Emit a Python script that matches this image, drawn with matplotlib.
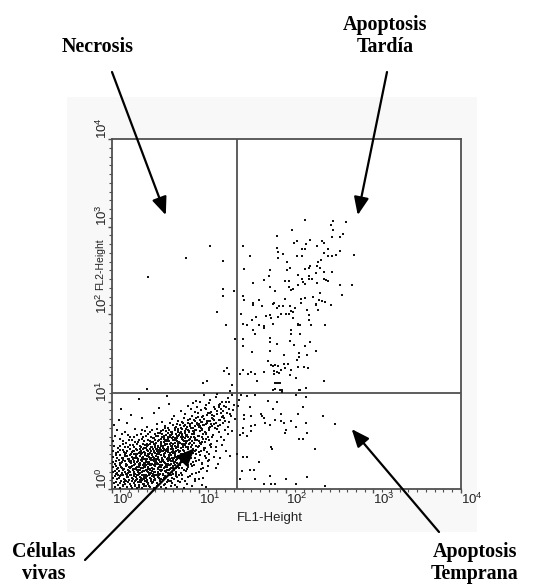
import numpy as np
import matplotlib.pyplot as plt
from matplotlib.ticker import FixedLocator, FixedFormatter, NullFormatter
from matplotlib.patches import Rectangle

# Annexin V (FL1) vs propidium iodide (FL2), values as log10 of the channel
# quadrant gates
fl1_gate = 27.0
fl2_gate = 12.6

# late apoptosis (upper right)
late_apop = [
    (2.21, 3.08), (2.51, 3.02), (2.54, 3.06), (2.68, 3.05), (2.07, 2.96), (2.54, 2.96),
    (1.89, 2.89), (2.65, 2.91), (2.62, 2.88), (2.53, 2.88), (2.12, 2.83), (2.09, 2.81),
    (2.27, 2.85), (2.41, 2.83), (2.43, 2.81), (2.35, 2.78), (2.23, 2.80), (1.51, 2.78),
    (1.89, 2.75), (1.91, 2.71), (1.96, 2.69), (2.18, 2.74), (2.22, 2.74), (2.48, 2.74),
    (2.43, 2.70), (2.62, 2.72), (2.57, 2.67), (2.78, 2.67), (1.59, 2.66), (1.91, 2.64),
    (2.12, 2.66), (2.18, 2.66), (2.48, 2.66), (2.53, 2.66), (2.40, 2.62), (2.36, 2.60),
    (2.37, 2.59), (2.01, 2.60), (2.27, 2.55), (2.21, 2.52), (2.26, 2.53), (2.35, 2.55),
    (2.39, 2.53), (1.52, 2.52), (2.04, 2.53), (2.01, 2.50), (1.81, 2.50), (2.53, 2.48),
    (2.43, 2.48), (2.34, 2.47), (2.26, 2.43), (2.26, 2.40), (2.18, 2.40), (2.14, 2.45),
    (2.30, 2.40), (1.80, 2.43), (1.99, 2.38), (2.03, 2.38), (1.75, 2.39), (2.43, 2.40),
    (2.46, 2.39), (2.48, 2.38), (2.35, 2.36), (2.19, 2.37), (2.21, 2.34), (2.14, 2.33),
    (1.62, 2.36), (2.62, 2.33), (2.75, 2.33), (1.81, 2.31), (2.03, 2.31), (2.08, 2.29),
    (2.06, 2.27), (1.87, 2.26), (2.64, 2.22), (1.51, 2.21), (2.39, 2.24), (1.52, 2.16),
    (1.99, 2.17), (2.17, 2.17), (2.21, 2.18), (2.31, 2.19), (2.17, 2.13), (2.38, 2.16),
    (2.41, 2.15), (2.44, 2.14), (1.62, 2.13), (1.62, 2.10), (1.69, 2.16), (1.72, 2.09),
    (1.86, 2.13), (1.85, 2.11), (1.92, 2.09), (1.89, 2.07), (1.96, 2.09), (2.04, 2.09),
    (2.10, 2.07), (2.05, 2.04), (2.06, 2.03), (2.08, 2.02), (2.51, 2.10), (2.34, 2.10),
    (2.34, 2.11), (2.24, 2.05), (2.37, 2.05), (1.48, 2.00), (1.65, 1.97), (1.77, 1.98),
    (1.81, 1.99), (1.83, 1.95), (1.91, 1.97), (1.94, 2.00), (2.00, 2.00), (2.03, 2.00),
    (2.26, 1.99), (1.51, 1.89), (1.61, 1.93), (1.55, 1.88), (1.69, 1.87), (1.74, 1.86),
    (1.75, 1.84), (1.85, 1.89), (2.08, 1.95), (2.14, 1.89), (2.16, 1.88), (2.13, 1.87),
    (2.26, 1.93), (2.28, 1.88), (2.45, 1.87), (1.62, 1.82), (1.64, 1.77), (1.82, 1.73),
    (1.82, 1.68), (1.89, 1.66), (2.06, 1.82), (2.06, 1.77), (2.16, 1.77), (2.04, 1.69),
    (2.09, 1.65), (2.27, 1.68), (2.21, 1.63), (2.34, 1.58), (1.51, 1.72), (1.51, 1.63),
    (1.61, 1.57), (1.81, 1.58), (1.98, 1.53), (2.15, 1.55), (2.15, 1.51), (2.24, 1.53),
    (2.12, 1.48), (1.79, 1.46), (1.83, 1.42), (1.85, 1.41), (1.87, 1.42), (1.91, 1.41),
    (1.97, 1.43), (2.02, 1.43), (1.99, 1.38), (1.94, 1.36), (1.92, 1.33), (1.89, 1.34),
    (1.86, 1.32), (1.86, 1.35), (1.75, 1.34), (2.06, 1.36), (2.14, 1.39), (2.11, 1.27),
    (2.20, 1.40), (2.25, 1.38), (2.04, 1.30), (1.67, 1.24), (1.60, 1.34), (1.64, 1.31),
    (1.56, 1.32), (1.50, 1.36), (1.47, 1.31), (2.43, 1.24), (1.89, 1.21), (1.93, 1.21),
    (1.85, 1.13), (1.87, 1.14), (1.93, 1.13), (1.95, 1.11), (2.15, 1.13), (2.23, 1.15),
    (1.87, 1.21), (1.92, 1.21), (1.95, 1.13), (2.16, 1.13), (1.66, 1.23),
]

# necrosis (upper left)
necrosis = [
    (1.13, 2.78), (0.85, 2.64), (1.27, 2.61), (0.42, 2.42), (1.27, 2.29), (1.28, 2.21),
    (1.40, 2.26), (1.21, 2.02), (1.31, 1.87), (1.41, 1.72), (1.29, 1.35), (1.32, 1.38),
    (1.34, 1.32), (1.05, 1.21), (1.09, 1.23), (1.38, 1.19), (0.40, 1.14), (1.36, 1.12),
]

# early apoptosis (lower right)
early_apop = [
    (1.48, 1.08), (1.55, 1.06), (1.58, 0.94), (1.60, 0.83), (1.52, 0.80), (1.51, 0.70),
    (1.50, 0.64), (1.55, 0.61), (1.60, 0.66), (1.60, 0.72), (1.64, 0.73), (1.71, 0.86),
    (1.72, 0.83), (1.74, 0.81), (1.76, 0.75), (1.81, 0.73), (1.79, 1.01), (1.85, 0.91),
    (1.87, 0.79), (1.89, 1.00), (1.94, 0.86), (1.94, 0.78), (1.97, 0.76), (2.00, 0.67),
    (1.99, 0.64), (2.05, 0.78), (2.11, 0.71), (2.13, 0.86), (2.15, 0.57), (2.19, 0.57),
    (2.23, 0.76), (2.24, 0.64), (2.19, 0.94), (2.42, 0.83), (2.56, 0.74), (2.33, 0.46),
    (1.83, 0.48), (1.84, 0.46), (1.69, 0.31), (1.50, 0.37), (1.55, 0.37), (1.58, 0.22),
    (1.63, 0.22), (1.47, 0.11), (1.64, 0.12), (1.81, 0.15), (1.83, 0.06), (1.74, 0.06),
    (1.87, 0.06), (2.00, 0.11), (2.11, 0.06), (2.24, 0.14), (2.44, 0.03), (1.64, 1.07),
    (2.11, 1.07), (2.23, 1.05), (1.45, 0.95), (1.47, 0.62), (1.44, 0.40), (1.49, 0.21),
    (1.46, 1.02), (1.52, 0.85),
]

# live cells (lower left), outer part of the cloud
live = [
    (0.31, 1.03), (0.63, 1.06), (0.97, 1.01), (1.06, 1.08), (1.13, 1.02), (1.19, 1.05),
    (1.26, 1.00), (1.33, 1.04), (1.38, 1.07), (1.21, 1.09),
    (0.66, 0.97), (0.87, 0.95), (1.01, 0.99), (1.08, 0.96), (1.12, 0.98), (1.17, 0.94),
    (1.24, 0.97), (1.29, 0.95), (1.35, 0.99), (1.40, 0.96), (0.93, 0.98), (1.31, 1.00),
    (0.11, 0.91), (0.54, 0.93), (0.79, 0.89), (0.91, 0.92), (1.02, 0.90), (1.07, 0.93),
    (1.14, 0.88), (1.18, 0.91), (1.23, 0.94), (1.28, 0.89), (1.34, 0.92), (1.39, 0.90),
    (0.98, 0.94), (1.25, 0.91),
    (0.22, 0.85), (0.48, 0.87), (0.71, 0.83), (0.84, 0.86), (0.92, 0.84), (0.99, 0.87),
    (1.04, 0.82), (1.09, 0.85), (1.13, 0.87), (1.17, 0.83), (1.21, 0.86), (1.27, 0.84),
    (1.32, 0.87), (1.37, 0.83), (0.95, 0.88), (1.15, 0.85),
    (0.08, 0.79), (0.35, 0.81), (0.58, 0.77), (0.69, 0.80), (0.76, 0.78), (0.83, 0.81),
    (0.88, 0.76), (0.94, 0.79), (0.99, 0.82), (1.03, 0.77), (1.06, 0.80), (1.11, 0.78),
    (1.15, 0.81), (1.19, 0.76), (1.24, 0.79), (1.29, 0.81), (1.35, 0.77), (0.90, 0.80),
    (1.01, 0.79), (1.41, 0.80),
    (0.03, 0.73), (0.18, 0.75), (0.41, 0.71), (0.52, 0.74), (0.61, 0.72), (0.67, 0.75),
    (0.73, 0.70), (0.78, 0.73), (0.82, 0.76), (0.86, 0.71), (0.90, 0.74), (0.95, 0.72),
    (0.98, 0.75), (1.02, 0.70), (1.05, 0.73), (1.09, 0.76), (1.13, 0.71), (1.17, 0.74),
    (1.22, 0.72), (1.28, 0.75), (1.33, 0.71), (0.70, 0.73), (0.93, 0.70), (1.00, 0.74),
    (0.06, 0.67), (0.15, 0.65), (0.27, 0.69), (0.38, 0.66), (0.46, 0.68), (0.53, 0.64),
    (0.59, 0.67), (0.64, 0.70), (0.68, 0.65), (0.72, 0.68), (0.76, 0.66), (0.80, 0.69),
    (0.84, 0.64), (0.87, 0.67), (0.91, 0.70), (0.94, 0.65), (0.97, 0.68), (1.01, 0.66),
    (1.04, 0.69), (1.08, 0.64), (1.12, 0.67), (1.18, 0.70), (1.23, 0.65), (1.30, 0.68),
    (0.62, 0.66), (0.78, 0.64), (0.89, 0.66), (1.38, 0.66),
    (0.04, 0.61), (0.12, 0.63), (0.21, 0.59), (0.29, 0.62), (0.36, 0.60), (0.42, 0.63),
    (0.47, 0.58), (0.51, 0.61), (0.55, 0.64), (0.58, 0.59), (0.62, 0.62), (0.65, 0.60),
    (0.69, 0.63), (0.72, 0.58), (0.75, 0.61), (0.79, 0.64), (0.82, 0.59), (0.85, 0.62),
    (0.88, 0.60), (0.92, 0.63), (0.96, 0.58), (1.00, 0.61), (1.05, 0.63), (1.10, 0.59),
    (1.16, 0.62), (1.25, 0.60), (0.60, 0.61), (0.70, 0.60), (0.77, 0.62), (0.81, 0.61),
    (0.67, 0.59), (1.33, 0.63),
    (0.02, 0.55), (0.09, 0.57), (0.16, 0.53), (0.23, 0.56), (0.30, 0.54), (0.35, 0.57),
    (0.40, 0.52), (0.44, 0.55), (0.48, 0.58), (0.51, 0.53), (0.54, 0.56), (0.57, 0.54),
    (0.60, 0.57), (0.63, 0.52), (0.66, 0.55), (0.69, 0.58), (0.72, 0.53), (0.74, 0.56),
    (0.77, 0.54), (0.80, 0.57), (0.83, 0.52), (0.86, 0.55), (0.90, 0.57), (0.94, 0.53),
    (0.98, 0.56), (1.03, 0.54), (1.08, 0.57), (1.14, 0.52), (1.21, 0.55), (0.46, 0.54),
    (0.56, 0.52), (0.61, 0.55), (0.68, 0.53), (0.75, 0.58), (0.85, 0.53), (1.29, 0.56),
    (0.03, 0.49), (0.07, 0.47), (0.13, 0.51), (0.19, 0.48), (0.24, 0.50), (0.28, 0.46),
    (0.32, 0.49), (0.36, 0.52), (0.39, 0.47), (0.42, 0.50), (0.45, 0.48), (0.48, 0.51),
    (0.51, 0.46), (0.53, 0.49), (0.56, 0.52), (0.59, 0.47), (0.61, 0.50), (0.64, 0.48),
    (0.67, 0.51), (0.70, 0.46), (0.73, 0.49), (0.76, 0.52), (0.79, 0.47), (0.82, 0.50),
    (0.85, 0.48), (0.89, 0.51), (0.93, 0.46), (0.97, 0.49), (1.02, 0.51), (1.07, 0.47),
    (1.13, 0.50), (1.19, 0.48), (0.44, 0.46), (0.50, 0.48), (0.57, 0.49), (0.63, 0.46),
    (0.69, 0.49), (0.74, 0.47), (0.80, 0.52), (1.26, 0.50),
    (0.01, 0.43), (0.05, 0.41), (0.10, 0.45), (0.14, 0.42), (0.18, 0.44), (0.22, 0.40),
    (0.25, 0.43), (0.28, 0.46), (0.31, 0.41), (0.34, 0.44), (0.37, 0.42), (0.40, 0.45),
    (0.42, 0.40), (0.45, 0.43), (0.47, 0.46), (0.50, 0.41), (0.52, 0.44), (0.55, 0.42),
    (0.57, 0.45), (0.60, 0.40), (0.62, 0.43), (0.65, 0.46), (0.67, 0.41), (0.70, 0.44),
    (0.73, 0.42), (0.76, 0.45), (0.79, 0.40), (0.83, 0.43), (0.87, 0.46), (0.91, 0.41),
    (0.95, 0.44), (1.00, 0.42), (1.06, 0.45), (1.12, 0.40), (1.20, 0.43), (0.38, 0.40),
    (0.44, 0.41), (0.49, 0.44), (0.54, 0.40), (0.59, 0.43), (0.64, 0.44), (0.69, 0.42),
    (0.33, 0.46), (1.31, 0.44),
    (0.02, 0.37), (0.06, 0.35), (0.09, 0.39), (0.13, 0.36), (0.17, 0.38), (0.20, 0.34),
    (0.23, 0.37), (0.26, 0.40), (0.29, 0.35), (0.32, 0.38), (0.35, 0.36), (0.38, 0.39),
    (0.40, 0.34), (0.43, 0.37), (0.46, 0.40), (0.48, 0.35), (0.51, 0.38), (0.53, 0.36),
    (0.56, 0.39), (0.58, 0.34), (0.61, 0.37), (0.64, 0.35), (0.66, 0.39), (0.69, 0.36),
    (0.72, 0.38), (0.75, 0.34), (0.78, 0.37), (0.82, 0.39), (0.86, 0.35), (0.90, 0.38),
    (0.95, 0.36), (1.01, 0.39), (1.08, 0.35), (1.17, 0.37), (0.27, 0.36), (0.36, 0.34),
    (0.41, 0.38), (0.47, 0.37), (0.52, 0.34), (0.60, 0.39), (0.67, 0.34), (0.74, 0.37),
    (1.24, 0.36), (1.36, 0.38),
    (0.01, 0.31), (0.04, 0.29), (0.08, 0.33), (0.11, 0.30), (0.15, 0.32), (0.18, 0.28),
    (0.21, 0.31), (0.24, 0.34), (0.27, 0.29), (0.30, 0.32), (0.33, 0.30), (0.35, 0.33),
    (0.38, 0.28), (0.41, 0.31), (0.44, 0.34), (0.46, 0.29), (0.49, 0.32), (0.52, 0.30),
    (0.54, 0.33), (0.57, 0.28), (0.60, 0.31), (0.63, 0.34), (0.65, 0.29), (0.68, 0.32),
    (0.71, 0.30), (0.74, 0.33), (0.78, 0.28), (0.82, 0.31), (0.86, 0.33), (0.91, 0.29),
    (0.97, 0.32), (1.04, 0.30), (1.12, 0.33), (0.26, 0.31), (0.32, 0.28), (0.39, 0.33),
    (0.43, 0.29), (0.50, 0.30), (0.55, 0.31), (0.62, 0.29), (0.70, 0.34), (1.22, 0.29),
    (0.02, 0.25), (0.06, 0.23), (0.09, 0.27), (0.12, 0.24), (0.16, 0.26), (0.19, 0.22),
    (0.22, 0.25), (0.25, 0.28), (0.28, 0.23), (0.31, 0.26), (0.34, 0.24), (0.36, 0.27),
    (0.39, 0.22), (0.42, 0.25), (0.45, 0.28), (0.47, 0.23), (0.50, 0.26), (0.53, 0.24),
    (0.55, 0.27), (0.58, 0.22), (0.61, 0.25), (0.64, 0.28), (0.67, 0.23), (0.70, 0.26),
    (0.74, 0.24), (0.78, 0.27), (0.83, 0.22), (0.88, 0.25), (0.94, 0.27), (1.02, 0.23),
    (1.10, 0.26), (0.24, 0.23), (0.30, 0.22), (0.37, 0.25), (0.44, 0.23), (0.49, 0.28),
    (0.56, 0.25), (0.63, 0.22), (0.72, 0.28), (1.19, 0.24),
    (0.01, 0.19), (0.05, 0.17), (0.08, 0.21), (0.12, 0.18), (0.15, 0.20), (0.18, 0.16),
    (0.21, 0.19), (0.24, 0.22), (0.27, 0.17), (0.30, 0.20), (0.33, 0.18), (0.36, 0.21),
    (0.39, 0.16), (0.42, 0.19), (0.44, 0.22), (0.47, 0.17), (0.50, 0.20), (0.53, 0.18),
    (0.56, 0.21), (0.59, 0.16), (0.62, 0.19), (0.66, 0.22), (0.70, 0.17), (0.74, 0.20),
    (0.79, 0.18), (0.85, 0.21), (0.92, 0.17), (1.00, 0.19), (0.26, 0.20), (0.35, 0.16),
    (0.41, 0.21), (0.48, 0.19), (0.55, 0.17), (0.64, 0.18), (1.09, 0.21), (0.77, 0.16),
    (0.02, 0.13), (0.06, 0.11), (0.10, 0.15), (0.14, 0.12), (0.17, 0.14), (0.20, 0.10),
    (0.23, 0.13), (0.26, 0.16), (0.29, 0.11), (0.32, 0.14), (0.35, 0.12), (0.38, 0.15),
    (0.41, 0.10), (0.44, 0.13), (0.47, 0.16), (0.50, 0.11), (0.53, 0.14), (0.57, 0.12),
    (0.61, 0.15), (0.65, 0.10), (0.69, 0.13), (0.74, 0.15), (0.80, 0.11), (0.87, 0.14),
    (0.95, 0.12), (0.28, 0.14), (0.37, 0.11), (0.45, 0.12), (0.55, 0.10), (1.05, 0.13),
    (0.03, 0.07), (0.07, 0.05), (0.11, 0.09), (0.15, 0.06), (0.19, 0.08), (0.22, 0.04),
    (0.25, 0.07), (0.28, 0.10), (0.31, 0.05), (0.34, 0.08), (0.37, 0.06), (0.40, 0.09),
    (0.43, 0.04), (0.46, 0.07), (0.49, 0.10), (0.53, 0.05), (0.57, 0.08), (0.61, 0.06),
    (0.66, 0.09), (0.72, 0.05), (0.78, 0.08), (0.86, 0.06), (0.95, 0.09), (0.33, 0.10),
    (0.42, 0.07), (1.03, 0.05),
    (0.04, 0.02), (0.09, 0.01), (0.13, 0.03), (0.18, 0.02), (0.23, 0.01), (0.27, 0.03),
    (0.31, 0.02), (0.35, 0.01), (0.39, 0.03), (0.44, 0.02), (0.48, 0.01), (0.52, 0.03),
    (0.57, 0.02), (0.62, 0.01), (0.68, 0.03), (0.75, 0.02), (0.83, 0.01), (0.92, 0.03),
    (1.08, 0.02), (0.29, 0.01),
]

# live cells, dense core of the cloud
live_core = [
    (0.055, 0.085), (0.095, 0.065), (0.165, 0.095), (0.205, 0.055), (0.235, 0.090),
    (0.265, 0.045), (0.325, 0.075), (0.385, 0.095), (0.415, 0.055), (0.475, 0.085),
    (0.515, 0.065), (0.555, 0.095), (0.595, 0.045), (0.635, 0.075), (0.695, 0.065),
    (0.135, 0.045), (0.305, 0.085), (0.445, 0.095), (0.755, 0.095), (0.365, 0.035),
    (0.035, 0.145), (0.085, 0.125), (0.125, 0.155), (0.155, 0.105), (0.185, 0.135),
    (0.215, 0.155), (0.245, 0.115), (0.275, 0.135), (0.305, 0.155), (0.345, 0.105),
    (0.365, 0.135), (0.395, 0.125), (0.425, 0.155), (0.455, 0.115), (0.485, 0.135),
    (0.515, 0.155), (0.545, 0.125), (0.585, 0.105), (0.625, 0.135), (0.675, 0.155),
    (0.715, 0.115), (0.335, 0.125), (0.405, 0.145), (0.495, 0.105),
    (0.035, 0.205), (0.065, 0.185), (0.105, 0.165), (0.135, 0.215), (0.165, 0.175),
    (0.195, 0.205), (0.225, 0.165), (0.255, 0.185), (0.285, 0.215), (0.315, 0.175),
    (0.345, 0.195), (0.375, 0.165), (0.405, 0.215), (0.435, 0.175), (0.465, 0.205),
    (0.495, 0.165), (0.525, 0.195), (0.555, 0.215), (0.585, 0.175), (0.615, 0.205),
    (0.655, 0.165), (0.695, 0.195), (0.735, 0.175), (0.375, 0.205), (0.455, 0.185),
    (0.285, 0.165),
    (0.045, 0.265), (0.075, 0.235), (0.105, 0.255), (0.145, 0.225), (0.175, 0.275),
    (0.205, 0.245), (0.235, 0.265), (0.265, 0.225), (0.295, 0.255), (0.325, 0.275),
    (0.355, 0.235), (0.385, 0.255), (0.415, 0.225), (0.435, 0.275), (0.465, 0.245),
    (0.495, 0.265), (0.525, 0.225), (0.545, 0.255), (0.575, 0.275), (0.605, 0.235),
    (0.635, 0.255), (0.665, 0.275), (0.705, 0.235), (0.755, 0.255), (0.805, 0.235),
    (0.395, 0.275), (0.275, 0.245),
    (0.055, 0.315), (0.095, 0.295), (0.135, 0.335), (0.165, 0.285), (0.195, 0.315),
    (0.225, 0.295), (0.255, 0.325), (0.285, 0.305), (0.315, 0.285), (0.345, 0.315),
    (0.365, 0.295), (0.395, 0.325), (0.425, 0.305), (0.455, 0.285), (0.475, 0.335),
    (0.505, 0.315), (0.535, 0.285), (0.565, 0.305), (0.585, 0.335), (0.615, 0.295),
    (0.645, 0.315), (0.675, 0.285), (0.705, 0.315), (0.745, 0.295), (0.795, 0.325),
    (0.845, 0.295), (0.415, 0.285), (0.335, 0.335),
    (0.045, 0.385), (0.115, 0.355), (0.155, 0.375), (0.185, 0.345), (0.215, 0.385),
    (0.245, 0.355), (0.275, 0.375), (0.305, 0.345), (0.335, 0.395), (0.355, 0.365),
    (0.385, 0.345), (0.415, 0.375), (0.445, 0.355), (0.465, 0.385), (0.495, 0.345),
    (0.525, 0.365), (0.545, 0.395), (0.575, 0.355), (0.605, 0.375), (0.635, 0.345),
    (0.655, 0.365), (0.685, 0.385), (0.715, 0.355), (0.755, 0.375), (0.805, 0.355),
    (0.855, 0.385), (0.425, 0.395), (0.505, 0.375),
    (0.075, 0.425), (0.125, 0.445), (0.165, 0.415), (0.205, 0.455), (0.235, 0.425),
    (0.265, 0.405), (0.295, 0.445), (0.325, 0.425), (0.355, 0.455), (0.385, 0.415),
    (0.415, 0.435), (0.435, 0.455), (0.465, 0.405), (0.485, 0.425), (0.515, 0.455),
    (0.535, 0.415), (0.565, 0.435), (0.595, 0.455), (0.615, 0.415), (0.645, 0.425),
    (0.675, 0.455), (0.705, 0.415), (0.735, 0.435), (0.775, 0.425), (0.815, 0.445),
    (0.885, 0.425), (0.935, 0.455), (0.545, 0.445),
    (0.095, 0.495), (0.155, 0.475), (0.215, 0.505), (0.255, 0.475), (0.295, 0.515),
    (0.335, 0.485), (0.375, 0.465), (0.405, 0.495), (0.435, 0.515), (0.465, 0.475),
    (0.495, 0.505), (0.525, 0.485), (0.555, 0.465), (0.585, 0.495), (0.615, 0.515),
    (0.645, 0.475), (0.675, 0.495), (0.705, 0.515), (0.735, 0.475), (0.765, 0.495),
    (0.795, 0.465), (0.835, 0.505), (0.875, 0.485), (0.925, 0.505), (0.985, 0.475),
    (0.385, 0.505),
    (0.135, 0.545), (0.195, 0.565), (0.265, 0.535), (0.315, 0.565), (0.375, 0.545),
    (0.415, 0.565), (0.455, 0.535), (0.495, 0.565), (0.525, 0.545), (0.565, 0.575),
    (0.595, 0.535), (0.625, 0.565), (0.655, 0.545), (0.685, 0.525), (0.715, 0.565),
    (0.745, 0.545), (0.785, 0.525), (0.815, 0.565), (0.855, 0.545), (0.895, 0.525),
    (0.955, 0.555), (1.015, 0.525), (0.645, 0.575),
    (0.185, 0.615), (0.255, 0.595), (0.335, 0.625), (0.395, 0.605), (0.445, 0.595),
    (0.495, 0.625), (0.535, 0.605), (0.575, 0.625), (0.605, 0.595), (0.645, 0.635),
    (0.675, 0.615), (0.705, 0.595), (0.735, 0.625), (0.765, 0.605), (0.805, 0.625),
    (0.835, 0.585), (0.865, 0.615), (0.905, 0.595), (0.945, 0.625), (0.985, 0.605),
    (1.035, 0.595), (1.085, 0.625),
    (0.345, 0.675), (0.435, 0.655), (0.515, 0.685), (0.565, 0.665), (0.615, 0.695),
    (0.655, 0.675), (0.695, 0.655), (0.735, 0.705), (0.765, 0.685), (0.795, 0.655),
    (0.825, 0.715), (0.855, 0.685), (0.885, 0.655), (0.915, 0.695), (0.955, 0.675),
    (0.995, 0.705), (1.035, 0.675), (1.075, 0.655), (1.115, 0.695), (1.155, 0.715),
    (1.205, 0.685),
    (0.745, 0.745), (0.805, 0.765), (0.845, 0.735), (0.875, 0.785), (0.915, 0.755),
    (0.955, 0.775), (0.985, 0.735), (1.025, 0.765), (1.055, 0.795), (1.085, 0.745),
    (1.125, 0.775), (1.165, 0.805), (1.195, 0.755), (1.235, 0.785), (1.265, 0.825),
    (1.045, 0.835), (1.105, 0.865), (1.155, 0.845), (1.205, 0.895), (1.255, 0.865),
    (1.305, 0.935), (1.355, 0.855), (0.965, 0.815), (1.085, 0.915), (1.225, 0.955),
]

# live cells, right half of the dense core
live_core_right = [
    (0.605, 0.125), (0.645, 0.185), (0.675, 0.095), (0.715, 0.215), (0.745, 0.135),
    (0.775, 0.245), (0.805, 0.165), (0.835, 0.095), (0.865, 0.225), (0.895, 0.145),
    (0.925, 0.265), (0.965, 0.185), (1.005, 0.115), (1.045, 0.245), (0.625, 0.275),
    (0.655, 0.335), (0.685, 0.245), (0.725, 0.305), (0.755, 0.355), (0.785, 0.285),
    (0.815, 0.395), (0.845, 0.325), (0.875, 0.275), (0.905, 0.355), (0.935, 0.305),
    (0.965, 0.395), (0.995, 0.335), (1.035, 0.285), (1.065, 0.375), (1.105, 0.315),
    (0.615, 0.445), (0.665, 0.395), (0.695, 0.465), (0.725, 0.405), (0.755, 0.475),
    (0.785, 0.435), (0.815, 0.485), (0.845, 0.415), (0.875, 0.455), (0.905, 0.485),
    (0.935, 0.415), (0.965, 0.445), (0.995, 0.495), (1.025, 0.435), (1.055, 0.465),
    (1.095, 0.425), (1.135, 0.475), (0.635, 0.545), (0.665, 0.615), (0.705, 0.555),
    (0.735, 0.585), (0.765, 0.535), (0.795, 0.595), (0.825, 0.545), (0.855, 0.605),
    (0.885, 0.565), (0.915, 0.545), (0.945, 0.595), (0.975, 0.565), (1.005, 0.545),
    (1.045, 0.575), (1.075, 0.535), (1.115, 0.565), (1.155, 0.595), (0.755, 0.655),
    (0.795, 0.695), (0.845, 0.665), (0.895, 0.725), (0.935, 0.665), (0.975, 0.745),
    (1.015, 0.715), (1.055, 0.735), (1.095, 0.775), (1.135, 0.745), (1.175, 0.785),
    (1.245, 0.735), (1.295, 0.775),
    (0.145, 0.085), (0.185, 0.185), (0.225, 0.325), (0.255, 0.145), (0.295, 0.395),
    (0.325, 0.215), (0.355, 0.055), (0.385, 0.295), (0.425, 0.185), (0.455, 0.335),
    (0.485, 0.225), (0.515, 0.395), (0.545, 0.165), (0.575, 0.315), (0.195, 0.255),
    (0.245, 0.435), (0.315, 0.255), (0.345, 0.415), (0.405, 0.085), (0.435, 0.355),
    (0.465, 0.145), (0.505, 0.285), (0.535, 0.425), (0.565, 0.075), (0.115, 0.305),
    (0.075, 0.155), (0.155, 0.395), (0.265, 0.095), (0.395, 0.465), (0.475, 0.535),
]

decade_ticks = [1, 10, 100, 1000, 10000]
decade_labels = [r'$\mathregular{10^{%d}}$' % k for k in range(5)]

plt.rcParams['mathtext.fontset'] = 'custom'
plt.rcParams['mathtext.rm'] = 'Liberation Sans'
plt.rcParams['font.family'] = ['Liberation Sans', 'DejaVu Sans']

W, H = 549, 584
fig = plt.figure(figsize=(W / 100, H / 100), dpi=100)

def fx(px):
    return px / W

def fy(py):
    return 1 - py / H

# faint grey panel behind the original screenshot
panel = Rectangle((fx(67), fy(532)), fx(477) - fx(67), fy(97) - fy(532),
                  transform=fig.transFigure, facecolor='#f8f8f8',
                  edgecolor='none', zorder=-5)
fig.patches.append(panel)

ax = fig.add_axes([fx(111.7), fy(489), fx(460.7) - fx(111.7), fy(139) - fy(489)])
ax.set_zorder(2)
ax.set_facecolor('white')
ax.set_xscale('log')
ax.set_yscale('log')
ax.set_xlim(1, 1e4)
ax.set_ylim(1, 1e4)

for group in (live, live_core, live_core_right, early_apop, late_apop, necrosis):
    arr = np.array(group)
    ax.plot(10 ** arr[:, 0], 10 ** arr[:, 1], ls='none', marker='s', ms=1.6,
            mew=0, color='#111111', zorder=3)

ax.axvline(fl1_gate, color='#505050', lw=1.3, zorder=2)
ax.axhline(fl2_gate, color='#505050', lw=1.3, zorder=2)

for s in ax.spines.values():
    s.set_color('#505050')
    s.set_linewidth(1.3)

minor = [10 ** (k + j / 10) for k in range(4) for j in range(1, 10)]
for axis in (ax.xaxis, ax.yaxis):
    axis.set_major_locator(FixedLocator(decade_ticks))
    axis.set_major_formatter(FixedFormatter(decade_labels))
    axis.set_minor_locator(FixedLocator(minor))
    axis.set_minor_formatter(NullFormatter())
ax.tick_params(which='major', direction='out', length=3, width=1, color='#505050',
               labelsize=9.5, labelcolor='#222222')
ax.tick_params(which='minor', direction='out', length=2, width=0.8, color='#505050')
ax.tick_params(axis='x', which='major', pad=-1)
ax.tick_params(axis='y', which='major', pad=-1.5)
for lab in ax.get_xticklabels():
    lab.set_horizontalalignment('left')
for lab in ax.get_yticklabels():
    lab.set_rotation(90)
    lab.set_verticalalignment('bottom')

fig.text(fx(270), fy(518), 'FL1-Height', ha='center', va='center', fontsize=9.5,
         color='#222222', zorder=6)
fig.text(fx(100), fy(264), 'FL2-Height', ha='center', va='center', fontsize=7.5,
         color='#222222', rotation=90, zorder=6)

# labels and arrows
lab_kw = dict(ha='center', va='center', fontsize=14.4, fontweight='bold',
              family='Liberation Serif', linespacing=1.1, zorder=6)
fig.text(fx(98), fy(47), 'Necrosis', **lab_kw)
fig.text(fx(385), fy(36), 'Apoptosis\nTardía', **lab_kw)
fig.text(fx(44), fy(563), 'Células\nvivas', **lab_kw)
fig.text(fx(475), fy(563), 'Apoptosis\nTemprana', **lab_kw)

arrow_kw = dict(arrowstyle='-|>,head_length=0.6,head_width=0.25', mutation_scale=18,
                lw=1.6, color='black', shrinkA=0, shrinkB=0)
arrows = [((0.62, 3.13), (112, 72)),
          ((2.82, 3.13), (387, 72)),
          ((0.954, 0.468), (85, 560)),
          ((2.75, 0.685), (439, 532))]
for (tx, ty), (px, py) in arrows:
    ax.annotate('', xy=(10 ** tx, 10 ** ty), xycoords='data',
                xytext=(fx(px), fy(py)), textcoords='figure fraction',
                arrowprops=arrow_kw, annotation_clip=False, zorder=5)

fig.savefig('out.png', dpi=100)
